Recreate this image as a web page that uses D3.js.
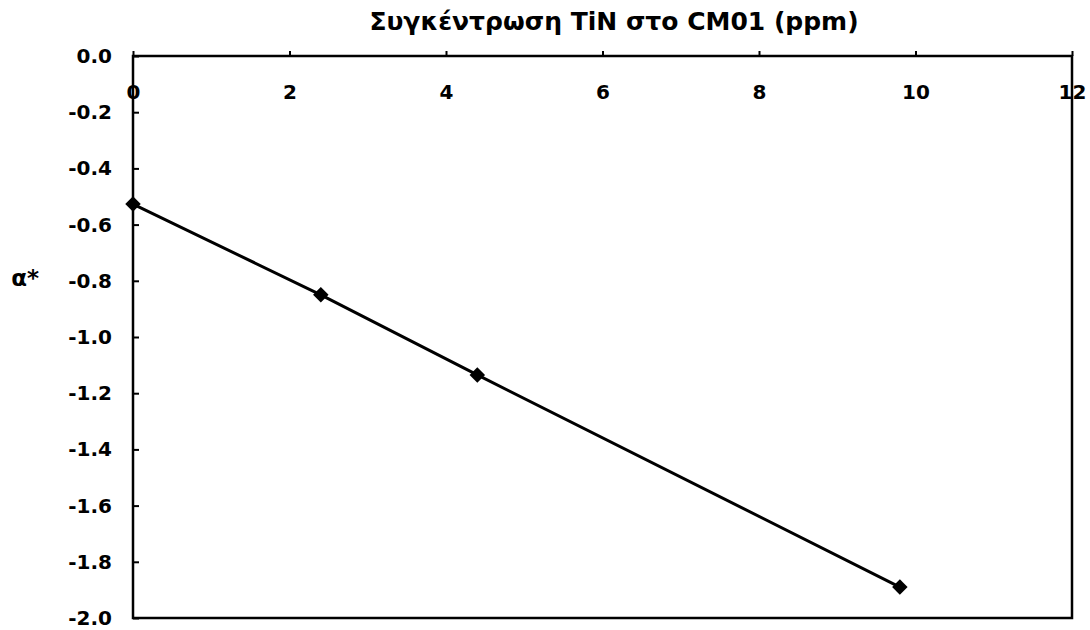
<!DOCTYPE html>
<html><head><meta charset="utf-8">
<script src="https://cdn.jsdelivr.net/npm/d3@7"></script>
<style>body{margin:0;background:#fff;} text{font-family:"DejaVu Sans",Arial,sans-serif;font-weight:bold;}</style>
</head><body>
<svg id="c" width="1090" height="630"></svg>
<script>
const concentration = [0, 2.4, 4.4, 9.8];
const aStar = [-0.527, -0.85, -1.135, -1.89];
const xTicks = [0, 2, 4, 6, 8, 10, 12];
const yTicks = [0.0, -0.2, -0.4, -0.6, -0.8, -1.0, -1.2, -1.4, -1.6, -1.8, -2.0];
const title = "Συγκέντρωση TiN στο CM01 (ppm)";
const yLabel = "α*";

const svg = d3.select("#c");
const L = 133, R = 1072, T = 56, B = 618;
const x = d3.scaleLinear().domain([0, 12]).range([L, R]);
const y = d3.scaleLinear().domain([-2, 0]).range([B, T]);

// frame
svg.append("rect").attr("x", L).attr("y", T).attr("width", R - L).attr("height", B - T)
  .attr("fill", "none").attr("stroke", "#000").attr("stroke-width", 2.5);

// top x axis
const xa = svg.append("g").attr("transform", `translate(0,${T})`)
  .call(d3.axisTop(x).tickValues(xTicks).tickSize(5).tickFormat(d3.format("d")));
xa.select(".domain").remove();
xa.selectAll("line").attr("stroke-width", 2);
xa.selectAll("text").attr("y", 36).attr("dy", "0.35em").attr("font-size", 20)
  .attr("font-family", "DejaVu Sans").attr("fill", "#000");

// left y axis, ticks inward
const ya = svg.append("g").attr("transform", `translate(${L},0)`)
  .call(d3.axisLeft(y).tickValues(yTicks).tickSize(-6).tickFormat(d3.format(".1f")));
ya.select(".domain").remove();
ya.selectAll("line").attr("stroke-width", 2);
ya.selectAll("text").attr("x", -21).attr("font-size", 20)
  .attr("font-family", "DejaVu Sans").attr("fill", "#000")
  .text(d => d3.format(".1f")(d).replace("−", "-"));

// line
const pts = concentration.map((c, i) => [c, aStar[i]]);
svg.append("path").datum(pts)
  .attr("d", d3.line().x(d => x(d[0])).y(d => y(d[1])))
  .attr("fill", "none").attr("stroke", "#000").attr("stroke-width", 3);

// markers
svg.selectAll(".m").data(pts).enter().append("path")
  .attr("transform", d => `translate(${x(d[0])},${y(d[1])}) rotate(45)`)
  .attr("d", d3.symbol(d3.symbolSquare, 120)).attr("fill", "#000");

// title
svg.append("text").attr("x", 614).attr("y", 30).attr("text-anchor", "middle")
  .attr("font-size", 25).text(title);
svg.append("text").attr("x", 39).attr("y", 286).attr("text-anchor", "end")
  .attr("font-size", 23).text(yLabel);
</script>
</body></html>
